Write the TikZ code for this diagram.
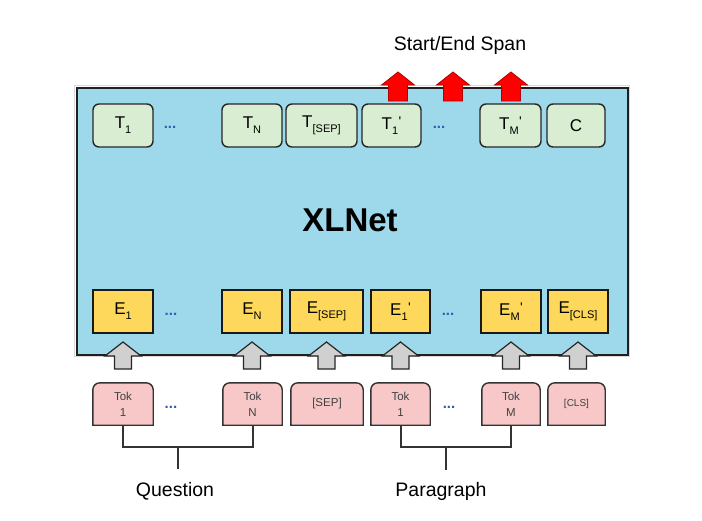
\documentclass[tikz,border=0pt]{standalone}
\usepackage{fontspec}
\setmainfont{Liberation Sans}
\definecolor{boxblue}{HTML}{9DD9EA}
\definecolor{tgreen}{HTML}{D8EDD2}
\definecolor{eyellow}{HTML}{FDD85B}
\definecolor{tokpink}{HTML}{F8C8C8}
\definecolor{arrgray}{HTML}{D0D0D0}
\definecolor{dotblue}{HTML}{3060B0}
\newcommand\lb[2]{#1\raisebox{-0.3em}{\fontsize{11}{11}\selectfont #2}}
\newcommand\lbp[2]{#1\raisebox{-0.3em}{\fontsize{11}{11}\selectfont #2}\raisebox{0.2em}{\fontsize{14}{14}\selectfont\kern0.5pt\textquotesingle}}
% block arrow: #1 cx, #2 tip y, #3 shoulder y, #4 bottom y, #5 half body, #6 half head, #7 style
\newcommand\blockarrow[7]{\draw[#7] (#1,#2) -- (#1+#6,#3) -- (#1+#5,#3) -- (#1+#5,#4) -- (#1-#5,#4) -- (#1-#5,#3) -- (#1-#6,#3) -- cycle;}
\begin{document}
\begin{tikzpicture}[x=1pt,y=-1pt,
  mainbox/.style={draw=black!88, line width=2pt, fill=boxblue, anchor=north west, inner sep=0pt},
  tbox/.style={draw=black!85, line width=1.4pt, fill=tgreen, rounded corners=6pt, minimum height=43pt, inner sep=0pt, font=\fontsize{17}{17}\selectfont},
  ebox/.style={draw=black!90, line width=1.4pt, fill=eyellow, minimum height=43pt, inner sep=0pt, font=\fontsize{17}{17}\selectfont},
  tokbox/.style={minimum height=42pt, inner sep=0pt, align=center, font=\fontsize{11.5}{16}\selectfont, text=black!75},
  tokline/.style={draw=black!80, line width=1.4pt, fill=tokpink},
  dots/.style={text=dotblue, font=\fontsize{15}{15}\selectfont\bfseries, inner sep=0pt},
  grayarrow/.style={draw=black!85, line width=1.2pt, fill=arrgray, line join=miter},
  redarrow/.style={draw=red!70!black, line width=0.8pt, fill=red},
  bracket/.style={draw=black!80, line width=2pt},
  biglabel/.style={font=\fontsize{19.5}{20}\selectfont, inner sep=0pt}
]
\useasboundingbox (0,0) rectangle (702,520);
% main box with faint shadow
\draw[draw=black!15, line width=1pt] (74,85) rectangle (629,356);
\node[mainbox, minimum width=551pt, minimum height=267pt] (xl) at (76,87) {};
\node[font=\fontsize{33}{33}\selectfont\bfseries] (xlnet) at (350,220) {XLNet};

% T row
\node[tbox, minimum width=60pt] (t1) at (123,125.5) {\lb{T}{1}};
\node[dots] (td1) at (170,127) {...};
\node[tbox, minimum width=60pt] (tn) at (252,125.5) {\lb{T}{N}};
\node[tbox, minimum width=71pt] (tsep) at (321.5,125.5) {\lb{T}{[SEP]}};
\node[tbox, minimum width=59pt] (t1p) at (391.5,125.5) {\lbp{T}{1}};
\node[dots] (td2) at (439,127) {...};
\node[tbox, minimum width=61pt] (tmp) at (510.5,125.5) {\lbp{T}{M}};
\node[tbox, minimum width=58pt] (tc) at (576,125.5) {C};

% E row
\node[ebox, minimum width=60pt] (e1) at (123,311.5) {\lb{E}{1}};
\node[dots] (ed1) at (171,314) {...};
\node[ebox, minimum width=60pt] (en) at (252,311.5) {\lb{E}{N}};
\node[ebox, minimum width=73pt] (esep) at (326.5,311.5) {\lb{E}{[SEP]}};
\node[ebox, minimum width=59pt] (e1p) at (400.5,311.5) {\lbp{E}{1}};
\node[dots] (ed2) at (448,314) {...};
\node[ebox, minimum width=60pt] (emp) at (511,311.5) {\lbp{E}{M}};
\node[ebox, minimum width=60pt] (ecls) at (578,311.5) {\lb{E}{[CLS]}};

% gray arrows into the model
\foreach \cx in {123,252,326.5,400.5,511,578}{
  \blockarrow{\cx}{342}{356}{369}{8.5}{18}{grayarrow}
}
% red output arrows
\foreach \cx in {398,453,511}{
  \blockarrow{\cx}{72}{85}{101}{9.5}{16.5}{redarrow}
}
\node[biglabel] (span) at (460,45) {Start/End Span};

% Tok row
\foreach \nm/\cx/\w in {tok1/123/60, tokn/252.5/59, toksep/327/72, tok1p/400.5/59, tokm/511/58, tokcls/576.5/57}{
  \node[tokbox, minimum width=\w pt] (\nm) at (\cx,404) {};
  \draw[tokline] (\nm.south west) -- ([yshift=-7pt]\nm.north west) arc[start angle=180,end angle=90,radius=7pt]
     -- ([xshift=-7pt]\nm.north east) arc[start angle=90,end angle=0,radius=7pt] -- (\nm.south east) -- cycle;
}
\node[tokbox] at (tok1) {Tok\\1};
\node[tokbox] at (tokn) {Tok\\N};
\node[tokbox] at (toksep) {[SEP]};
\node[tokbox] at (tok1p) {Tok\\1};
\node[tokbox] at (tokm) {Tok\\M};
\node[tokbox, font=\fontsize{10}{12}\selectfont] at (tokcls) {[CLS]};
\node[dots] (kd1) at (171,407) {...};
\node[dots] (kd2) at (449,407) {...};

% brackets
\coordinate (qj) at (178,447);
\coordinate (qe) at (178,469);
\coordinate (pj) at (446,447);
\coordinate (pe) at (446,470);
\draw[bracket] (tok1.south) |- (qj) -| (tokn.south);
\draw[bracket] (qj) -- (qe);
\draw[bracket] (tok1p.south) |- (pj) -| (tokm.south);
\draw[bracket] (pj) -- (pe);
\node[biglabel] (question) at (175,491) {Question};
\node[biglabel] (paragraph) at (441,491) {Paragraph};
\end{tikzpicture}
\end{document}
